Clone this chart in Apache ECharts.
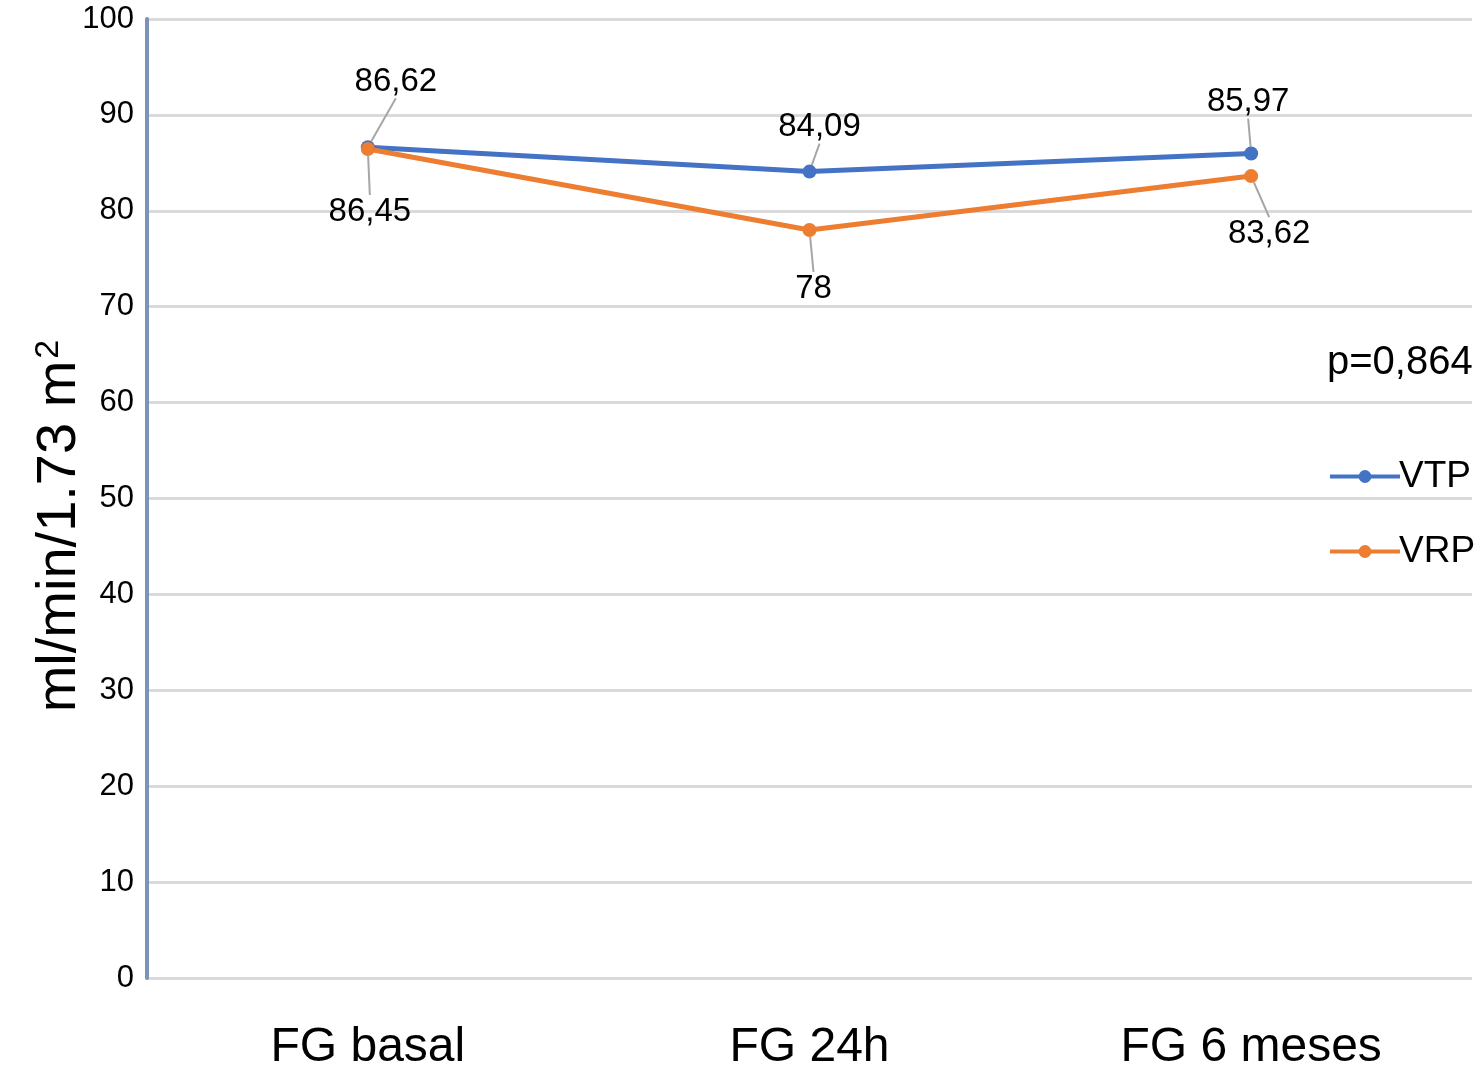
<!DOCTYPE html>
<html>
<head>
<meta charset="utf-8">
<script src="https://cdn.jsdelivr.net/npm/echarts@6/dist/echarts.min.js"></script>
<style>
html,body{margin:0;padding:0;background:#fff;}
#chart{width:1479px;height:1076px;}
</style>
</head>
<body>
<div id="chart"></div>
<script>
const categories = ['FG basal', 'FG 24h', 'FG 6 meses'];
const vtpValues = [86.62, 84.09, 85.97];
const vrpValues = [86.45, 78, 83.62];
const yTicks = [0, 10, 20, 30, 40, 50, 60, 70, 80, 90, 100];
const pValueText = 'p=0,864';
const yAxisTitle = 'ml/min/1.73 m{sup|2}';

// label offsets (relative to default top/bottom positions)
const vtpOffsets = [[28, -37], [10, -16], [-3, -23]];
const vrpOffsets = [[2, 34], [4, 30], [18, 29]];

const FONT = '"Liberation Sans", Arial, Helvetica, sans-serif';
const fmt = p => String(p.value).replace('.', ',');

const chart = echarts.init(document.getElementById('chart'));
chart.setOption({
  backgroundColor: '#fff',
  animation: false,
  textStyle: { fontFamily: FONT },
  grid: { left: 147, right: 7, top: 19, bottom: 98, containLabel: false },
  xAxis: {
    type: 'category',
    data: categories,
    boundaryGap: true,
    axisLine: { show: false },
    axisTick: { show: false },
    axisLabel: { color: '#000', fontSize: 48, margin: 46, fontFamily: FONT }
  },
  yAxis: {
    type: 'value',
    min: yTicks[0],
    max: yTicks[yTicks.length - 1],
    interval: 10,
    axisLine: { show: true, lineStyle: { color: '#7b93b6', width: 4 } },
    axisTick: { show: false },
    axisLabel: { color: '#000', fontSize: 31, margin: 13, fontFamily: FONT },
    splitLine: { show: true, lineStyle: { color: '#dadada', width: 3 } }
  },
  legend: {
    orient: 'vertical',
    left: 1323,
    top: 453,
    itemWidth: 70,
    itemHeight: 16,
    itemGap: 38,
    lineStyle: { width: 4 },
    textStyle: { color: '#000', fontSize: 37, fontFamily: FONT, padding: [0, 0, 0, -6] },
    data: ['VTP', 'VRP']
  },
  graphic: [
    {
      type: 'text',
      left: 1327,
      top: 343,
      style: { text: pValueText, fill: '#000', fontSize: 40, fontFamily: FONT }
    },
    {
      type: 'text',
      x: 60,
      y: 526,
      rotation: Math.PI / 2,
      style: {
        text: yAxisTitle,
        fill: '#000',
        fontSize: 56,
        fontFamily: FONT,
        align: 'center',
        verticalAlign: 'middle',
        rich: {
          sup: { fontSize: 34, verticalAlign: 'top', padding: [0, 0, 22, 2], fill: '#000', fontFamily: FONT }
        }
      }
    }
  ],
  series: [
    {
      name: 'VTP',
      type: 'line',
      data: vtpValues,
      color: '#4472c4',
      symbol: 'circle',
      symbolSize: 14,
      lineStyle: { width: 5 },
      label: { show: true, position: 'top', formatter: fmt, color: '#000', fontSize: 33, fontFamily: FONT },
      labelLine: { show: true, lineStyle: { color: '#a6a6a6', width: 2 } },
      labelLayout: p => ({ dx: vtpOffsets[p.dataIndex][0], dy: vtpOffsets[p.dataIndex][1] })
    },
    {
      name: 'VRP',
      type: 'line',
      data: vrpValues,
      color: '#ed7d31',
      symbol: 'circle',
      symbolSize: 14,
      lineStyle: { width: 5 },
      label: { show: true, position: 'bottom', formatter: fmt, color: '#000', fontSize: 33, fontFamily: FONT },
      labelLine: { show: true, lineStyle: { color: '#a6a6a6', width: 2 } },
      labelLayout: p => ({ dx: vrpOffsets[p.dataIndex][0], dy: vrpOffsets[p.dataIndex][1] })
    }
  ]
});
</script>
</body>
</html>
